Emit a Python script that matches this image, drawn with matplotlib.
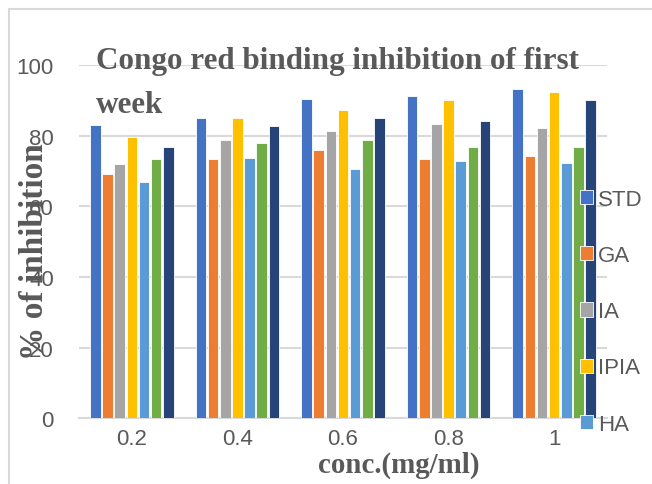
import numpy as np
import matplotlib
matplotlib.use('Agg')
import matplotlib.pyplot as plt
from matplotlib.patches import Rectangle

# data
concs = ['0.2', '0.4', '0.6', '0.8', '1']
series = ['STD', 'GA', 'IA', 'IPIA', 'HA', 'S6', 'S7']
std  = [83.1, 84.9, 90.4, 91.3, 93.1]
ga   = [69.1, 73.3, 75.9, 73.3, 74.2]
ia   = [71.9, 78.7, 81.4, 83.2, 82.3]
ipia = [79.6, 84.9, 87.3, 90.0, 92.3]
ha   = [66.9, 73.8, 70.5, 72.7, 72.4]
s6   = [73.3, 77.8, 78.7, 76.9, 76.9]
s7   = [76.9, 82.7, 84.9, 84.1, 90.0]
values = [std, ga, ia, ipia, ha, s6, s7]
colors = ['#4472C4', '#ED7D31', '#A5A5A5', '#FFC000', '#5B9BD5', '#70AD47', '#264478']

W, H = 652, 485
fig = plt.figure(figsize=(W/100, H/100), dpi=100)
ax = fig.add_axes([79/W, (H-419.3)/H, (607-79)/W, (419.3-66)/H])

sans = ['Liberation Sans', 'DejaVu Sans']
serif = ['Liberation Serif', 'DejaVu Serif']
grey = '#595959'

x = np.arange(len(concs))
slot = 0.115
bars = []
for i, (name, vals) in enumerate(zip(series, values)):
    b = ax.bar(x + (i-3)*slot, vals, width=0.1, color=colors[i], edgecolor='white',
               linewidth=0.6, label=name, zorder=3)
    bars.append(b)

ax.set_xlim(-0.5, 4.5)
ax.set_ylim(0, 100)
ax.set_yticks(range(0, 101, 20))
ax.yaxis.grid(True, color='#d9d9d9', linewidth=1.5, zorder=0)
for s in ['top', 'right', 'left']:
    ax.spines[s].set_visible(False)
ax.spines['bottom'].set_color('#d9d9d9')
ax.spines['bottom'].set_linewidth(1.5)
ax.tick_params(length=0, colors=grey, labelsize=16)
ax.tick_params(axis='y', pad=18)
ax.tick_params(axis='x', pad=7)
ax.set_xticks(x)
ax.set_xticklabels(concs)
for lab in ax.get_xticklabels() + ax.get_yticklabels():
    lab.set_family(sans)

fig.text(96/W, 1-47/H, 'Congo red binding inhibition of first\nweek', ha='left', va='top',
         fontsize=22.4, fontweight='bold', family=serif, color=grey, linespacing=1.7)
fig.text(35/W, 1-252/H, '% of inhibition', rotation=90, ha='center', va='center',
         fontsize=24, fontweight='bold', family=serif, color=grey)
fig.text(399/W, 1-465/H, 'conc.(mg/ml)', ha='center', va='center',
         fontsize=20.8, fontweight='bold', family=serif, color=grey)

# only the first five entries fit in the reference's legend
leg = ax.legend(bars[:5], series[:5], loc='upper left', bbox_to_anchor=(569/W, 1-179/H),
                bbox_transform=fig.transFigure, frameon=False, fontsize=16,
                handlelength=0.6, handleheight=0.6, handletextpad=0.2,
                labelspacing=1.58, borderpad=0)
for t in leg.get_texts():
    t.set_family(sans)
    t.set_color(grey)

fig.patches.append(Rectangle((9/W, -0.1), 1.2, (H-10)/H+0.1, transform=fig.transFigure,
                             fill=False, edgecolor='#d9d9d9', linewidth=1.5))

fig.savefig('out.png', dpi=100)
